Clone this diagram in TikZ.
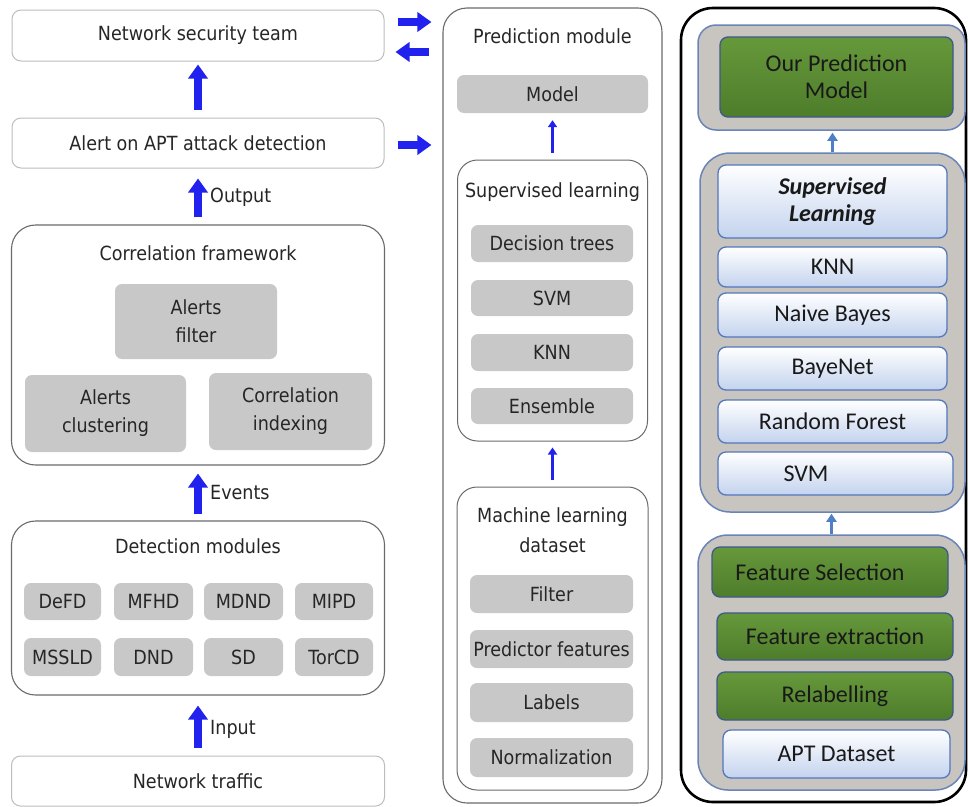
\documentclass[tikz,border=0pt]{standalone}
\usepackage{fontspec}
\setmainfont{DejaVu Sans}[FakeStretch=0.9]
\newfontfamily\calib{Carlito}
\usetikzlibrary{arrows.meta,calc}

\definecolor{boxgray}{HTML}{C8C8C8}
\definecolor{frameline}{HTML}{6A6A6A}
\definecolor{lightline}{HTML}{BDBDBD}
\definecolor{arrowblue}{HTML}{2222EE}
\definecolor{steel}{HTML}{4F7FC4}
\definecolor{grpfill}{HTML}{C8C4C0}
\definecolor{grpline}{HTML}{6A84B8}
\definecolor{leafdark}{HTML}{4E7D2B}
\definecolor{leaflight}{HTML}{66983B}
\definecolor{skyline}{HTML}{5476BA}
\definecolor{skylow}{HTML}{C3D3EE}
\definecolor{textdark}{HTML}{262626}

\tikzset{
  txt/.style={font=\fontsize{19.5}{28}\selectfont, text=textdark, inner sep=0pt, align=center},
  whitebox/.style={txt, draw=lightline, line width=1pt, rounded corners=9pt, fill=white},
  outerframe/.style={draw=frameline, line width=1.1pt, rounded corners=24pt},
  innerframe/.style={draw=frameline, line width=1pt, rounded corners=20pt},
  gbox/.style={txt, fill=boxgray, rounded corners=7pt},
  bigarrow/.style={draw=arrowblue, line width=8pt, -{Triangle[width=19pt,length=14pt]}},
  thinarrow/.style={draw=arrowblue, line width=3pt, -{Triangle[width=9pt,length=7pt]}},
  steelarrow/.style={draw=steel, line width=3pt, -{Triangle[width=10pt,length=8pt]}},
  rtxt/.style={font=\calib\fontsize{24}{27}\selectfont, text=black!90, inner sep=0pt, align=center},
  grp/.style={fill=grpfill, draw=grpline, line width=1.5pt},
  greenbox/.style={rtxt, top color=leaflight, bottom color=leafdark, draw=skyline!75!black, line width=1.3pt, rounded corners=8pt},
  bluebox/.style={rtxt, top color=white, bottom color=skylow, draw=skyline, line width=1.3pt, rounded corners=8pt},
}

\begin{document}
\begin{tikzpicture}[x=1pt,y=-1pt]
\useasboundingbox (0,0) rectangle (968,806);
\fill[white] (0,0) rectangle (968,806);

% ---------- left column: detection pipeline ----------
\node[whitebox, minimum width=372pt, minimum height=51pt] (team) at (198,35.5) {Network security team};
\node[whitebox, minimum width=372pt, minimum height=50pt] (alert) at (198,143) {Alert on APT attack detection};

\node[outerframe, minimum width=373pt, minimum height=240pt] (corr) at (198,345) {};
\node[txt] (corrt) at (198,253) {Correlation framework};
\node[gbox, minimum width=162pt, minimum height=75pt] (filt) at (196,321.5) {Alerts\\filter};
\node[gbox, minimum width=161pt, minimum height=77pt] (clus) at (105.5,413.5) {Alerts\\clustering};
\node[gbox, minimum width=163pt, minimum height=77pt] (cidx) at (290.5,411.5) {Correlation\\indexing};

\node[outerframe, minimum width=373pt, minimum height=174pt] (det) at (198,608) {};
\node[txt] (dett) at (198,546) {Detection modules};
\node[gbox, minimum width=77pt, minimum height=37pt] (defd)  at (62.5,601.5) {DeFD};
\node[gbox, minimum width=79pt, minimum height=37pt] (mfhd)  at (153.5,601.5) {MFHD};
\node[gbox, minimum width=79pt, minimum height=37pt] (mdnd)  at (243.5,601.5) {MDND};
\node[gbox, minimum width=78pt, minimum height=37pt] (mipd)  at (334,601.5) {MIPD};
\node[gbox, minimum width=77pt, minimum height=38pt] (mssld) at (62.5,657) {MSSLD};
\node[gbox, minimum width=79pt, minimum height=38pt] (dnd)   at (153.5,657) {DND};
\node[gbox, minimum width=79pt, minimum height=38pt] (sd)    at (243.5,657) {SD};
\node[gbox, minimum width=78pt, minimum height=38pt] (torcd) at (334,657) {TorCD};

\node[whitebox, minimum width=373pt, minimum height=50pt] (traffic) at (198,781) {Network traffic};

\draw[bigarrow, shorten <=8pt, shorten >=3pt] (alert.north) -- (team.south);
\draw[bigarrow, shorten <=7pt, shorten >=10pt] (corr.north) -- (alert.south);
\draw[bigarrow, shorten <=6pt, shorten >=8pt] (det.north) -- (corr.south);
\draw[bigarrow, shorten <=8pt, shorten >=10pt] (traffic.north) -- (det.south);
\node[txt, anchor=west] (outl) at (210,197) {Output};
\node[txt, anchor=west] (evtl) at (210,493) {Events};
\node[txt, anchor=west] (inpl) at (210,729) {Input};

% ---------- middle column: prediction module ----------
\node[outerframe, minimum width=219pt, minimum height=795pt] (pred) at (552.5,405.5) {};
\node[txt] (predt) at (552.5,36) {Prediction module};
\node[gbox, minimum width=191pt, minimum height=38pt] (model) at (552.5,94) {Model};

\node[innerframe, minimum width=190pt, minimum height=281pt] (sup) at (552.5,300.5) {};
\node[txt] (supt) at (552.5,192) {Supervised learning};
\node[gbox, minimum width=162pt, minimum height=37pt] (dtree) at (552,243.5) {Decision trees};
\node[gbox, minimum width=162pt, minimum height=36pt] (msvm)  at (552,298) {SVM};
\node[gbox, minimum width=162pt, minimum height=37pt] (mknn)  at (552,352.5) {KNN};
\node[gbox, minimum width=162pt, minimum height=36pt] (ens)   at (552,406) {Ensemble};

\node[innerframe, minimum width=191pt, minimum height=303pt] (mld) at (552.5,638.5) {};
\node[txt, font=\fontsize{19.5}{30}\selectfont] (mldt) at (552.5,530.5) {Machine learning\\dataset};
\node[gbox, minimum width=163pt, minimum height=38pt] (mfilt) at (551.5,594) {Filter};
\node[gbox, minimum width=163pt, minimum height=38pt] (pfeat) at (551.5,649) {Predictor features};
\node[gbox, minimum width=163pt, minimum height=39pt] (labs)  at (551.5,702.5) {Labels};
\node[gbox, minimum width=163pt, minimum height=39pt] (norm)  at (551.5,757.5) {Normalization};

\draw[thinarrow, shorten <=7pt, shorten >=7pt] (sup.north) -- (model.south);
\draw[thinarrow, shorten <=7pt, shorten >=6pt] (mld.north) -- (sup.south);

% ---------- arrows between the left and middle columns ----------
\draw[bigarrow, shorten <=13pt, shorten >=11pt]
  ($(team.east)+(0,-13.5)$) -- ($(team.east -| pred.west)+(0,-13.5)$);
\draw[bigarrow, shorten <=13pt, shorten >=11pt]
  ($(team.east -| pred.west)+(0,16.5)$) -- ($(team.east)+(0,16.5)$);
\draw[bigarrow, shorten <=13pt, shorten >=11pt]
  ($(alert.east)+(0,2)$) -- ($(alert.east -| pred.west)+(0,2)$);

% ---------- right column: our prediction model ----------
\node[draw=black, line width=2.6pt, rounded corners=32pt, minimum width=285pt, minimum height=794pt] (rpanel) at (823.5,405) {};

\node[grp, rounded corners=18pt, minimum width=267pt, minimum height=105pt] (topgrp) at (831.5,77.5) {};
\node[greenbox, minimum width=233pt, minimum height=80pt] (ours) at (836.5,77) {Our Prediction\\Model};

\node[grp, rounded corners=30pt, minimum width=265pt, minimum height=359pt] (supgrp) at (832.5,332.5) {};
\node[bluebox, minimum width=229pt, minimum height=73pt] (sl) at (832.5,201.5) {\bfseries\itshape Supervised\\\bfseries\itshape Learning};
\node[bluebox, minimum width=229pt, minimum height=40pt] (rknn) at (832.5,267) {KNN};
\node[bluebox, minimum width=229pt, minimum height=44pt] (nb)   at (832.5,315) {Naive Bayes};
\node[bluebox, minimum width=229pt, minimum height=43pt] (bn)   at (832.5,368.5) {BayeNet};
\node[bluebox, minimum width=229pt, minimum height=43pt] (rf)   at (832.5,421.5) {Random Forest};
\node[bluebox, minimum width=235pt, minimum height=43pt] (rsvm) at (835.5,473.5) {SVM\hspace*{59pt}};

\node[grp, rounded corners=30pt, minimum width=267pt, minimum height=255pt] (botgrp) at (831.5,662.5) {};
\node[greenbox, minimum width=236pt, minimum height=50pt] (fs)  at (830,572) {Feature Selection\hspace*{20pt}};
\node[greenbox, minimum width=236pt, minimum height=47pt] (fe)  at (835,636.5) {Feature extraction};
\node[greenbox, minimum width=236pt, minimum height=48pt] (rl)  at (835,696) {Relabelling};
\node[bluebox, minimum width=227pt, minimum height=48pt] (apt) at (836.5,754) {APT Dataset};

\draw[steelarrow, shorten >=2pt] (supgrp.north) -- (supgrp.north |- topgrp.south);
\draw[steelarrow, shorten >=1pt] (botgrp.north) -- (botgrp.north |- supgrp.south);
\end{tikzpicture}
\end{document}
